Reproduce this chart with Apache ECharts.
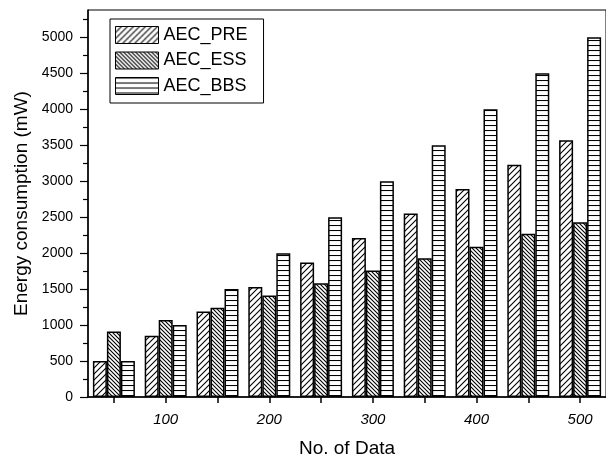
<!DOCTYPE html>
<html>
<head>
<meta charset="utf-8">
<script src="https://cdn.jsdelivr.net/npm/echarts@6/dist/echarts.min.js"></script>
<style>
html,body{margin:0;padding:0;background:#fff;}
#chart{width:606px;height:463px;}
</style>
</head>
<body>
<div id="chart"></div>
<script>
// ---- data ----
const xValues = [50, 100, 150, 200, 250, 300, 350, 400, 450, 500];
const aecPre = [500, 850, 1190, 1530, 1870, 2210, 2550, 2890, 3230, 3570];
const aecEss = [910, 1070, 1240, 1410, 1580, 1760, 1930, 2090, 2270, 2430];
const aecBbs = [500, 1000, 1500, 2000, 2500, 3000, 3500, 4000, 4500, 5000];
const xTickValues = [50, 100, 150, 200, 250, 300, 350, 400, 450, 500];
const xLabelValues = [100, 200, 300, 400, 500];
const yLabelValues = [0, 500, 1000, 1500, 2000, 2500, 3000, 3500, 4000, 4500, 5000];
const yMinorValues = [250, 750, 1250, 1750, 2250, 2750, 3250, 3750, 4250, 4750, 5250];
const seriesNames = ['AEC_PRE', 'AEC_ESS', 'AEC_BBS'];

function makePattern(kind) {
  const c = document.createElement('canvas');
  let s = kind === 'slash' ? 6 : (kind === 'back' ? 4 : 5);
  c.width = s; c.height = s;
  const g = c.getContext('2d');
  g.fillStyle = '#fff';
  g.fillRect(0, 0, s, s);
  g.strokeStyle = '#000';
  g.lineWidth = 1.1;
  g.beginPath();
  if (kind === 'slash') {
    g.moveTo(0, s); g.lineTo(s, 0);
    g.moveTo(-1, 1); g.lineTo(1, -1);
    g.moveTo(s - 1, s + 1); g.lineTo(s + 1, s - 1);
  } else if (kind === 'back') {
    g.moveTo(0, 0); g.lineTo(s, s);
    g.moveTo(s - 1, -1); g.lineTo(s + 1, 1);
    g.moveTo(-1, s - 1); g.lineTo(1, s + 1);
  } else {
    g.moveTo(0, 0.5); g.lineTo(s, 0.5);
  }
  g.stroke();
  return { image: c, repeat: 'repeat' };
}
const patterns = [makePattern('slash'), makePattern('back'), makePattern('horiz')];
const seriesData = [aecPre, aecEss, aecBbs];

const FONT = '"Liberation Sans", Arial, Helvetica, sans-serif';
const chart = echarts.init(document.getElementById('chart'), null, { renderer: 'canvas' });

const option = {
  backgroundColor: '#fff',
  animation: false,
  grid: {
    left: 88, right: -5, top: 10, bottom: 61,
    show: true, borderColor: '#000', borderWidth: 1, backgroundColor: 'transparent'
  },
  legend: {
    left: 110, top: 19,
    orient: 'vertical',
    padding: [7, 16, 8, 5],
    backgroundColor: '#fff',
    borderColor: '#000', borderWidth: 1,
    itemWidth: 43, itemHeight: 17, itemGap: 7.5,
    icon: 'rect',
    itemStyle: { borderColor: '#000', borderWidth: 1 },
    textStyle: { fontFamily: FONT, fontSize: 18, color: '#000', lineHeight: 17 },
    data: seriesNames
  },
  xAxis: {
    type: 'value', min: 25, max: 525,
    name: 'No. of Data', nameLocation: 'middle', nameGap: 42,
    nameTextStyle: { fontFamily: FONT, fontSize: 19, color: '#000' },
    axisLine: { show: true, lineStyle: { color: '#000', width: 1.5 } },
    axisTick: { show: true, inside: false, length: 6, customValues: xTickValues, lineStyle: { color: '#000', width: 1.5 } },
    axisLabel: { customValues: xLabelValues, formatter: v => String(v), fontFamily: FONT, fontSize: 15, fontStyle: 'italic', color: '#000', margin: 15 },
    splitLine: { show: false }
  },
  yAxis: [{
    type: 'value', min: 0, max: 5380, position: 'left',
    name: 'Energy consumption (mW)', nameLocation: 'middle', nameGap: 56, nameRotate: 90,
    nameTextStyle: { fontFamily: FONT, fontSize: 19, color: '#000' },
    axisLine: { show: true, lineStyle: { color: '#000', width: 1.5 } },
    axisTick: { show: true, inside: false, length: 8, customValues: yLabelValues, lineStyle: { color: '#000', width: 1.2 } },
    axisLabel: { customValues: yLabelValues, formatter: v => String(v), fontFamily: FONT, fontSize: 14, color: '#000', margin: 15 },
    splitLine: { show: false }
  }, {
    type: 'value', min: 0, max: 5380, position: 'left',
    axisLine: { show: false },
    axisTick: { show: true, inside: false, length: 5, customValues: yMinorValues, lineStyle: { color: '#000', width: 1.2 } },
    axisLabel: { show: false },
    splitLine: { show: false }
  }],
  series: seriesNames.map((name, i) => ({
    name: name,
    type: 'bar',
    yAxisIndex: 0,
    barWidth: 14,
    barGap: '0%',
    itemStyle: { color: patterns[i], borderColor: '#000', borderWidth: 1.5 },
    data: xValues.map((x, k) => [x, seriesData[i][k]])
  }))
};
chart.setOption(option);
</script>
</body>
</html>
